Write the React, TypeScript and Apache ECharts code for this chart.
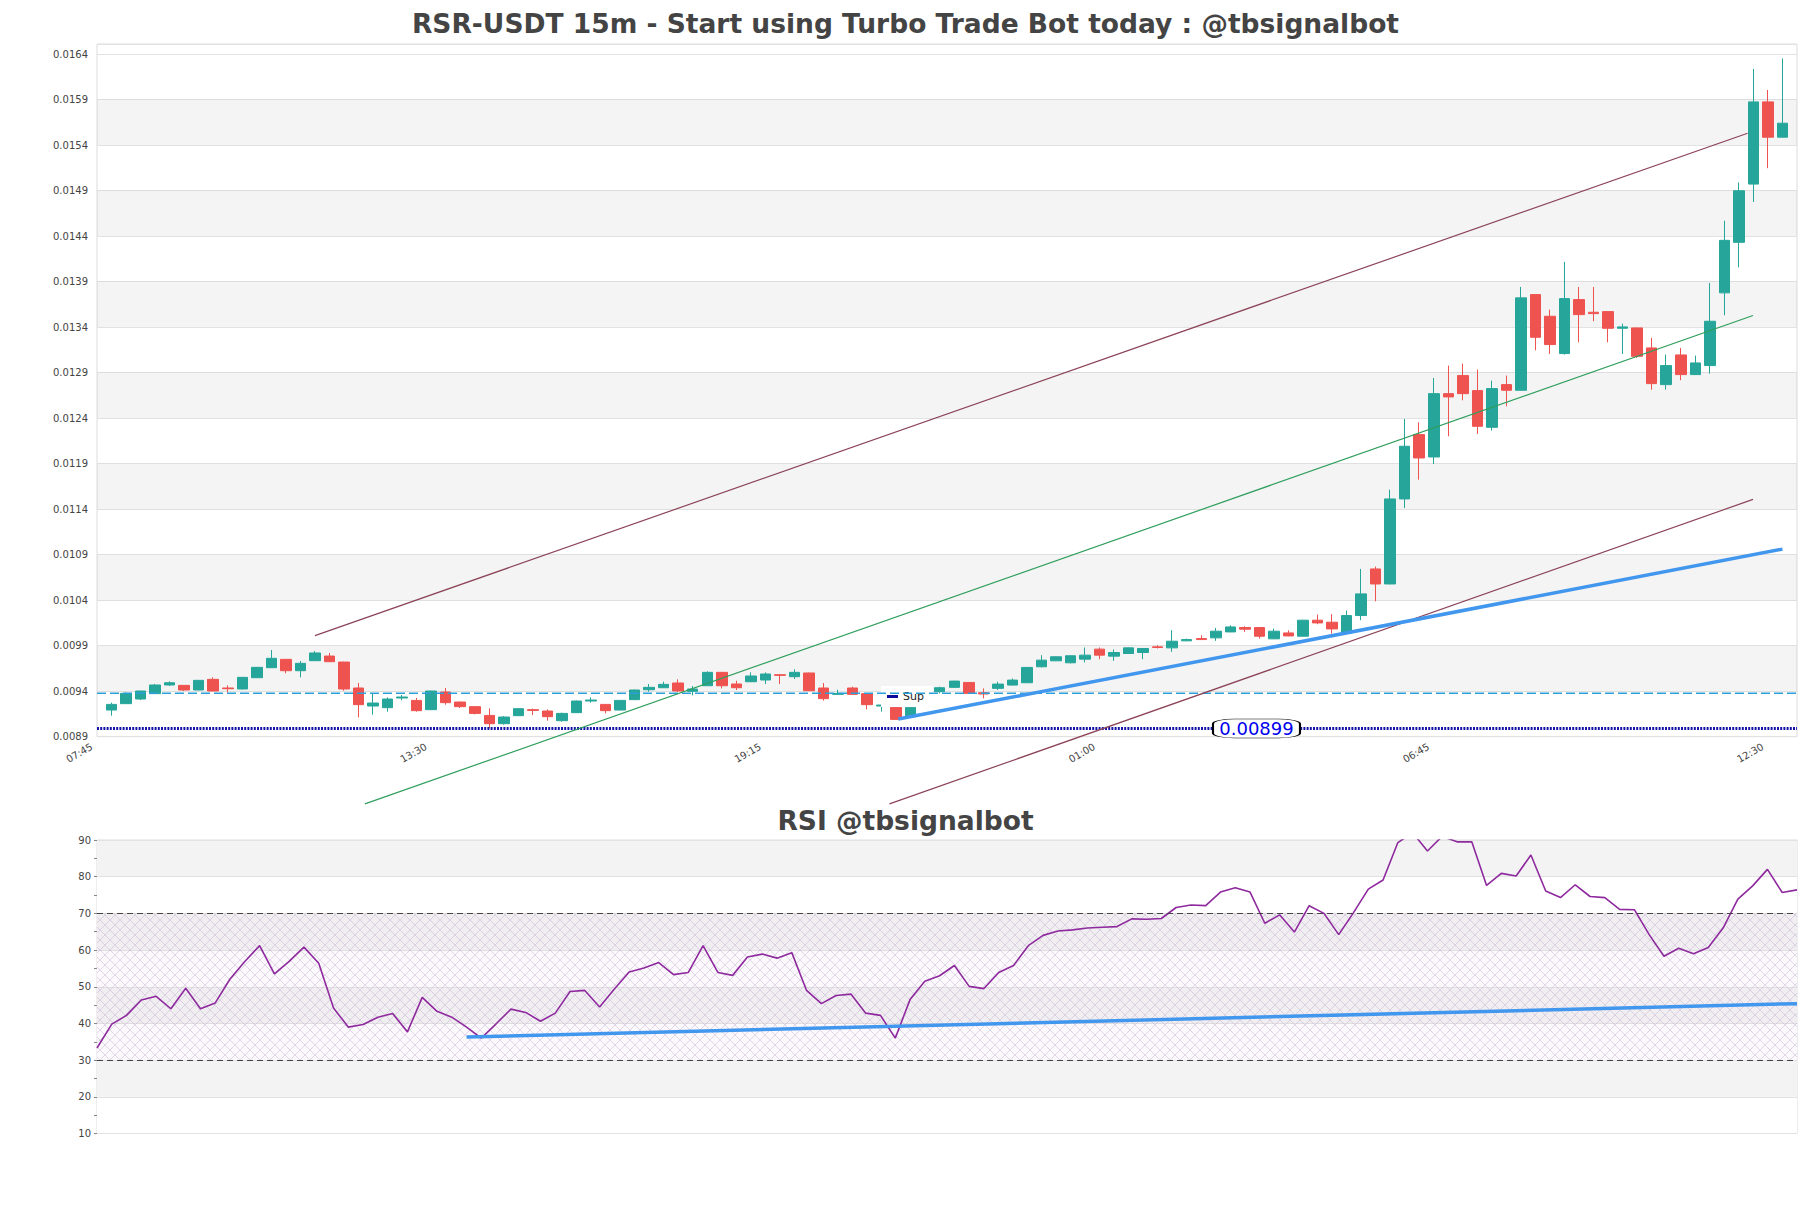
import React, { useEffect, useRef } from 'react';
import * as echarts from 'echarts';

const TITLE = 'RSR-USDT 15m - Start using Turbo Trade Bot today : @tbsignalbot';
const RSI_TITLE = 'RSI @tbsignalbot';
const FONT = 'DejaVu Sans';

// time axis: category 0 = 07:45 (left edge), 15-minute steps
const START_TIME = '07:45';
const STEP_MINUTES = 15;
const CATEGORY_COUNT = 118;
const LABEL_EVERY = 23;

// candles (08:00 .. 12:45 next day)
const OPEN = [
  0.009193, 0.009263, 0.009314, 0.009373, 0.009468, 0.009464, 0.009413, 0.00953, 0.009435, 0.009424,
  0.009548, 0.009658, 0.00975, 0.009625, 0.009735, 0.009786, 0.00972, 0.009435, 0.009237, 0.009219,
  0.009325, 0.009299, 0.009197, 0.009391, 0.009281, 0.00923, 0.009134, 0.009043, 0.009131, 0.009197,
  0.009182, 0.009076, 0.009164, 0.009292, 0.009255, 0.009193, 0.009307, 0.009416, 0.009438, 0.00949,
  0.009398, 0.00946, 0.009607, 0.009479, 0.009504, 0.009523, 0.009581, 0.009559, 0.0096, 0.009435,
  0.009365, 0.009435, 0.009373, 0.009237, 0.009222, 0.00912, 0.00928, 0.009394, 0.009442, 0.009496,
  0.009383, 0.009431, 0.009467, 0.009493, 0.009668, 0.009734, 0.009712, 0.009752, 0.009862, 0.009785,
  0.009814, 0.009825, 0.009887, 0.009876, 0.009953, 0.009978, 0.009986, 0.010051, 0.010099, 0.010099,
  0.009975, 0.01004, 0.010004, 0.01018, 0.010158, 0.010037, 0.010231, 0.010743, 0.010578, 0.011512,
  0.012219, 0.011973, 0.012669, 0.012867, 0.012702, 0.012299, 0.012768, 0.012706, 0.013757, 0.013519,
  0.013109, 0.013702, 0.013563, 0.01357, 0.013387, 0.013391, 0.013171, 0.012768, 0.013094, 0.012878,
  0.012977, 0.013776, 0.014331, 0.014971, 0.015874, 0.015486,
];
const CLOSE = [
  0.009255, 0.009376, 0.009402, 0.009468, 0.009493, 0.009413, 0.009519, 0.009402, 0.009427, 0.009552,
  0.009662, 0.009761, 0.009625, 0.009706, 0.00982, 0.009724, 0.009424, 0.009252, 0.00927, 0.009314,
  0.009336, 0.009186, 0.009402, 0.009274, 0.00923, 0.009156, 0.009043, 0.009116, 0.009208, 0.009189,
  0.00912, 0.009156, 0.009292, 0.009303, 0.009186, 0.009299, 0.009413, 0.009442, 0.009475, 0.009402,
  0.009424, 0.009607, 0.00946, 0.009438, 0.009567, 0.009589, 0.009574, 0.009607, 0.009405, 0.009318,
  0.009376, 0.009365, 0.009252, 0.009248, 0.00909, 0.009222, 0.00931, 0.009438, 0.009511, 0.009376,
  0.009369, 0.009478, 0.009522, 0.009661, 0.009741, 0.009778, 0.009789, 0.009796, 0.009796, 0.009825,
  0.009876, 0.009869, 0.00988, 0.009949, 0.009967, 0.009967, 0.010059, 0.010106, 0.010081, 0.010004,
  0.010059, 0.010007, 0.01018, 0.01015, 0.010084, 0.010231, 0.010469, 0.010578, 0.011512, 0.012091,
  0.011962, 0.012669, 0.012633, 0.012669, 0.01231, 0.012724, 0.012706, 0.013721, 0.013288, 0.013208,
  0.013713, 0.013537, 0.013548, 0.013387, 0.013402, 0.013079, 0.012779, 0.012977, 0.012878, 0.013006,
  0.013464, 0.014353, 0.014898, 0.015874, 0.015486, 0.01564,
];
const LOW = [
  0.009131, 0.00926, 0.009303, 0.00937, 0.009457, 0.009402, 0.00941, 0.009398, 0.009384, 0.00942,
  0.009545, 0.009655, 0.009596, 0.009552, 0.009732, 0.00972, 0.009405, 0.009112, 0.009142, 0.009175,
  0.0093, 0.009175, 0.009193, 0.009252, 0.009215, 0.009145, 0.008992, 0.009032, 0.009127, 0.009138,
  0.009076, 0.009065, 0.00916, 0.009274, 0.009156, 0.00919, 0.009303, 0.009394, 0.009435, 0.009391,
  0.009354, 0.009457, 0.009431, 0.009413, 0.0095, 0.009479, 0.009479, 0.009534, 0.009402, 0.009296,
  0.009362, 0.009362, 0.0092, 0.009175, 0.009086, 0.009116, 0.00927, 0.009376, 0.009438, 0.009372,
  0.009321, 0.009413, 0.009463, 0.00949, 0.009661, 0.00973, 0.009705, 0.009716, 0.009752, 0.009734,
  0.00981, 0.009752, 0.009869, 0.009832, 0.00995, 0.009963, 0.009953, 0.010048, 0.010051, 0.009978,
  0.009972, 0.010004, 0.01, 0.010136, 0.010033, 0.010033, 0.01018, 0.010388, 0.010575, 0.011413,
  0.011724, 0.011896, 0.0122, 0.012596, 0.012226, 0.012263, 0.01253, 0.0127, 0.013145, 0.013105,
  0.013098, 0.013233, 0.013464, 0.013233, 0.013105, 0.013061, 0.012713, 0.012713, 0.012816, 0.012875,
  0.012889, 0.01353, 0.014057, 0.014774, 0.015146, 0.015486,
];
const HIGH = [
  0.009274, 0.009384, 0.009405, 0.009479, 0.009508, 0.009468, 0.009522, 0.009552, 0.009464, 0.009556,
  0.009665, 0.009852, 0.009753, 0.009732, 0.009841, 0.00982, 0.009724, 0.00949, 0.009369, 0.009332,
  0.009358, 0.009325, 0.009405, 0.009435, 0.009285, 0.009237, 0.009211, 0.009127, 0.009211, 0.009208,
  0.0092, 0.009164, 0.009296, 0.009332, 0.009259, 0.009303, 0.009416, 0.009479, 0.009504, 0.00953,
  0.009457, 0.009618, 0.009611, 0.009515, 0.009607, 0.009607, 0.009589, 0.00964, 0.009604, 0.00949,
  0.009416, 0.009449, 0.009376, 0.009255, 0.009226, 0.009226, 0.00932, 0.009449, 0.009515, 0.0095,
  0.009431, 0.009504, 0.00954, 0.009665, 0.009796, 0.009782, 0.009793, 0.00988, 0.00988, 0.009858,
  0.00988, 0.009873, 0.009905, 0.010069, 0.009978, 0.010014, 0.010095, 0.010124, 0.010113, 0.010102,
  0.010088, 0.010069, 0.010184, 0.010242, 0.010246, 0.010286, 0.010743, 0.010769, 0.011614, 0.012391,
  0.012354, 0.012841, 0.012977, 0.012999, 0.012933, 0.012812, 0.012867, 0.013841, 0.01376, 0.013592,
  0.014116, 0.013841, 0.013841, 0.013574, 0.013438, 0.013395, 0.013281, 0.013098, 0.013171, 0.013087,
  0.013885, 0.014569, 0.014989, 0.016236, 0.016005, 0.016352,
];

const RSI = [
  33.3, 39.8, 42.2, 46.4, 47.4, 44.0, 49.6, 44.0, 45.6, 52.1,
  56.9, 61.2, 53.5, 56.9, 60.8, 56.4, 44.2, 39.0, 39.7, 41.7,
  42.7, 37.7, 47.1, 43.3, 41.7, 39.0, 36.0, 39.9, 43.9, 43.0,
  40.6, 42.8, 48.7, 49.0, 44.5, 49.4, 54.0, 55.1, 56.6, 53.3,
  53.9, 61.2, 53.9, 53.1, 58.1, 58.9, 57.8, 59.3, 49.0, 45.4,
  47.6, 48.0, 42.8, 42.2, 36.0, 46.5, 51.5, 53.0, 55.8, 50.1,
  49.5, 53.9, 55.8, 61.2, 64.0, 65.2, 65.5, 66.0, 66.2, 66.4,
  68.5, 68.4, 68.6, 71.6, 72.3, 72.1, 75.8, 77.0, 75.8, 67.3,
  69.6, 64.9, 72.1, 70.0, 64.2, 70.2, 76.6, 79.1, 89.3, 92.0,
  87.0, 91.0, 89.5, 89.5, 77.6, 80.9, 80.2, 85.9, 76.1, 74.3,
  77.8, 74.6, 74.3, 71.1, 71.0, 64.2, 58.3, 60.5, 59.0, 60.7,
  66.0, 73.9, 77.5, 82.0, 75.7, 76.4,
];

// drawn lines, [x position in 15-min steps from 07:45, price]
const UPPER_CHANNEL = [[15.0, 0.01001], [113.6, 0.01553]];
const GREEN_TREND = [[18.44, 0.008162], [113.97, 0.013527]];
const LOWER_CHANNEL = [[54.54, 0.008162], [113.97, 0.011507]];
const SUPPORT_TREND = [[55.15, 0.009094], [116.0, 0.010961]];
const SUP_LEVEL = 0.00899;
const SUP_LABEL_X = 79.8;
const DASHED_LEVEL = 0.009377;
const RSI_TREND = [[25, 36.3], [115, 45.4]];

// y axes
const PRICE_MIN = 0.0089;
const PRICE_MAX = 0.01651;
const PRICE_STEP = 0.0005;
const RSI_MIN = 10;
const RSI_MAX = 90;
const RSI_LOW = 30;
const RSI_HIGH = 70;

function timeLabel(c: number): string {
  const [h, m] = START_TIME.split(':').map(Number);
  const t = (h * 60 + m + c * STEP_MINUTES) % 1440;
  const hh = String(Math.floor(t / 60)).padStart(2, '0');
  const mm = String(t % 60).padStart(2, '0');
  return `${hh}:${mm}`;
}

function hatchPattern(): HTMLCanvasElement {
  const c = document.createElement('canvas');
  c.width = 10;
  c.height = 10;
  const g = c.getContext('2d');
  if (g) {
    g.fillStyle = 'rgba(200,170,215,0.07)';
    g.fillRect(0, 0, 10, 10);
    g.strokeStyle = 'rgba(190,170,205,0.55)';
    g.lineWidth = 0.8;
    g.beginPath();
    g.moveTo(0, 0);
    g.lineTo(10, 10);
    g.moveTo(10, 0);
    g.lineTo(0, 10);
    g.stroke();
  }
  return c;
}

function buildOption() {
  const categories = Array.from({ length: CATEGORY_COUNT }, (_, c) => timeLabel(c));
  const rsiCategories = RSI.map((_, i) => String(i));
  const candles = OPEN.map((o, i) => [i + 1, o, CLOSE[i], LOW[i], HIGH[i]]);

  const bands: any[] = [];
  for (let k = 1; ; k += 2) {
    const a = PRICE_MIN + k * PRICE_STEP;
    const b = a + PRICE_STEP;
    if (b > PRICE_MAX - 1e-9) break;
    bands.push([{ yAxis: a }, { yAxis: b }]);
  }

  const xMaxMain = CATEGORY_COUNT - 1;
  const xMaxRsi = RSI.length - 1;

  const trendLine = (name: string, data: number[][], color: string, width: number) => ({
    name,
    type: 'line',
    xAxisIndex: 1,
    yAxisIndex: 0,
    data,
    symbol: 'none',
    clip: false,
    silent: true,
    z: 5,
    lineStyle: { color, width },
  });

  return {
    animation: false,
    backgroundColor: '#ffffff',
    textStyle: { fontFamily: FONT },
    title: [
      {
        text: TITLE,
        left: 'center',
        top: 5,
        textStyle: { fontSize: 26.5, fontWeight: 'bold', color: '#444444', fontFamily: FONT },
      },
      {
        text: RSI_TITLE,
        left: 'center',
        top: 802,
        textStyle: { fontSize: 26.5, fontWeight: 'bold', color: '#444444', fontFamily: FONT },
      },
    ],
    legend: {
      data: ['Sup'],
      left: 881,
      top: 686,
      backgroundColor: '#ffffff',
      padding: [5, 9, 5, 6],
      icon: 'rect',
      itemWidth: 11,
      itemHeight: 3,
      selectedMode: false,
      textStyle: { fontSize: 11, color: '#222222', fontFamily: FONT },
    },
    grid: [
      { left: 97, top: 44, width: 1700, height: 692.7, show: true, borderColor: '#dcdcdc', borderWidth: 1, backgroundColor: '#ffffff' },
      { left: 97, top: 840, width: 1700, height: 293.5, show: true, borderColor: '#dcdcdc', borderWidth: 1, backgroundColor: '#ffffff' },
    ],
    xAxis: [
      {
        type: 'category',
        gridIndex: 0,
        data: categories,
        boundaryGap: false,
        axisLine: { show: false },
        axisTick: { show: false },
        splitLine: { show: false },
        axisLabel: {
          interval: LABEL_EVERY - 1,
          rotate: 30,
          fontSize: 10,
          color: '#444444',
          margin: 6,
          padding: [0, 6, 0, 0],
          fontFamily: FONT,
        },
      },
      { type: 'value', gridIndex: 0, min: 0, max: xMaxMain, show: false },
      {
        type: 'category',
        gridIndex: 1,
        data: rsiCategories,
        boundaryGap: false,
        axisLine: { show: false },
        axisTick: { show: false },
        axisLabel: { show: false },
        splitLine: { show: false },
      },
      { type: 'value', gridIndex: 1, min: 0, max: xMaxRsi, show: false },
    ],
    yAxis: [
      {
        type: 'value',
        gridIndex: 0,
        min: PRICE_MIN,
        max: PRICE_MAX,
        interval: PRICE_STEP,
        axisLine: { show: false },
        axisTick: { show: false },
        splitLine: { lineStyle: { color: '#e2e2e2', width: 1 } },
        axisLabel: {
          formatter: (v: number) => v.toFixed(4),
          showMaxLabel: false,
          fontSize: 10,
          color: '#444444',
          margin: 9,
          fontFamily: FONT,
        },
      },
      {
        type: 'value',
        gridIndex: 1,
        min: RSI_MIN,
        max: RSI_MAX,
        interval: 10,
        axisLine: { show: false },
        axisTick: { show: true, length: 3, lineStyle: { color: '#888888' } },
        minorTick: { show: true, splitNumber: 2, length: 3, lineStyle: { color: '#888888' } },
        splitLine: { lineStyle: { color: '#e2e2e2', width: 1 } },
        splitArea: { show: true, areaStyle: { color: ['#ffffff', '#f3f3f3'] } },
        axisLabel: { fontSize: 10, color: '#444444', margin: 6, fontFamily: FONT },
      },
    ],
    series: [
      {
        name: 'bands',
        type: 'line',
        xAxisIndex: 1,
        yAxisIndex: 0,
        data: [],
        silent: true,
        z: 1,
        markArea: {
          silent: true,
          itemStyle: { color: 'rgba(0,0,0,0.045)' },
          data: bands,
        },
      },
      {
        name: 'candles',
        type: 'candlestick',
        xAxisIndex: 0,
        yAxisIndex: 0,
        data: candles,
        dimensions: ['idx', 'open', 'close', 'lowest', 'highest'],
        encode: { x: 'idx', y: ['open', 'close', 'lowest', 'highest'] },
        barWidth: 11,
        z: 3,
        itemStyle: {
          color: '#26a69a',
          color0: '#ef5350',
          borderColor: '#26a69a',
          borderColor0: '#ef5350',
          borderWidth: 1,
        },
      },
      {
        name: 'dash',
        type: 'line',
        xAxisIndex: 1,
        yAxisIndex: 0,
        data: [[0, DASHED_LEVEL], [xMaxMain, DASHED_LEVEL]],
        symbol: 'none',
        silent: true,
        z: 4,
        lineStyle: { color: '#2b9fd9', width: 1.4, type: [9, 4] },
      },
      {
        name: 'Sup',
        type: 'line',
        xAxisIndex: 1,
        yAxisIndex: 0,
        data: [[0, SUP_LEVEL], [xMaxMain, SUP_LEVEL]],
        symbol: 'none',
        silent: true,
        z: 4,
        color: '#0c0c9c',
        lineStyle: { color: '#1414a8', width: 3, type: [2, 1.2] },
        markPoint: {
          silent: true,
          data: [
            {
              coord: [SUP_LABEL_X, SUP_LEVEL],
              symbol: 'roundRect',
              symbolSize: [87, 19],
              itemStyle: { color: '#ffffff', borderColor: '#000000', borderWidth: 1 },
              label: {
                show: true,
                position: 'inside',
                formatter: SUP_LEVEL.toFixed(5),
                color: '#0000ee',
                fontSize: 18,
                fontFamily: FONT,
              },
            },
          ],
        },
      },
      trendLine('upper', UPPER_CHANNEL, '#8c4458', 1.2),
      trendLine('green', GREEN_TREND, '#2f9e5c', 1.2),
      trendLine('lower', LOWER_CHANNEL, '#8c4458', 1.2),
      trendLine('support', SUPPORT_TREND, '#4196ee', 3.5),
      {
        name: 'RSI',
        type: 'line',
        xAxisIndex: 2,
        yAxisIndex: 1,
        data: RSI,
        symbol: 'none',
        z: 4,
        lineStyle: { color: '#8e2a9e', width: 1.6 },
        markArea: {
          silent: true,
          itemStyle: { color: { image: hatchPattern(), repeat: 'repeat' } },
          data: [[{ yAxis: RSI_LOW }, { yAxis: RSI_HIGH }]],
        },
        markLine: {
          silent: true,
          symbol: 'none',
          label: { show: false },
          lineStyle: { color: '#444444', width: 1.2, type: [6, 4] },
          data: [{ yAxis: RSI_HIGH }, { yAxis: RSI_LOW }],
        },
      },
      {
        name: 'rsiTrend',
        type: 'line',
        xAxisIndex: 3,
        yAxisIndex: 1,
        data: RSI_TREND,
        symbol: 'none',
        silent: true,
        z: 5,
        lineStyle: { color: '#4196ee', width: 3.5 },
      },
    ],
  };
}

export default function App() {
  const ref = useRef<HTMLDivElement>(null);
  useEffect(() => {
    if (!ref.current) return;
    const chart = echarts.init(ref.current, null, { renderer: 'svg' });
    chart.setOption(buildOption() as any);
    return () => chart.dispose();
  }, []);
  return (
    <div
      ref={ref}
      style={{ position: 'absolute', left: 0, top: 0, width: 1811, height: 1208, background: '#ffffff' }}
    />
  );
}
